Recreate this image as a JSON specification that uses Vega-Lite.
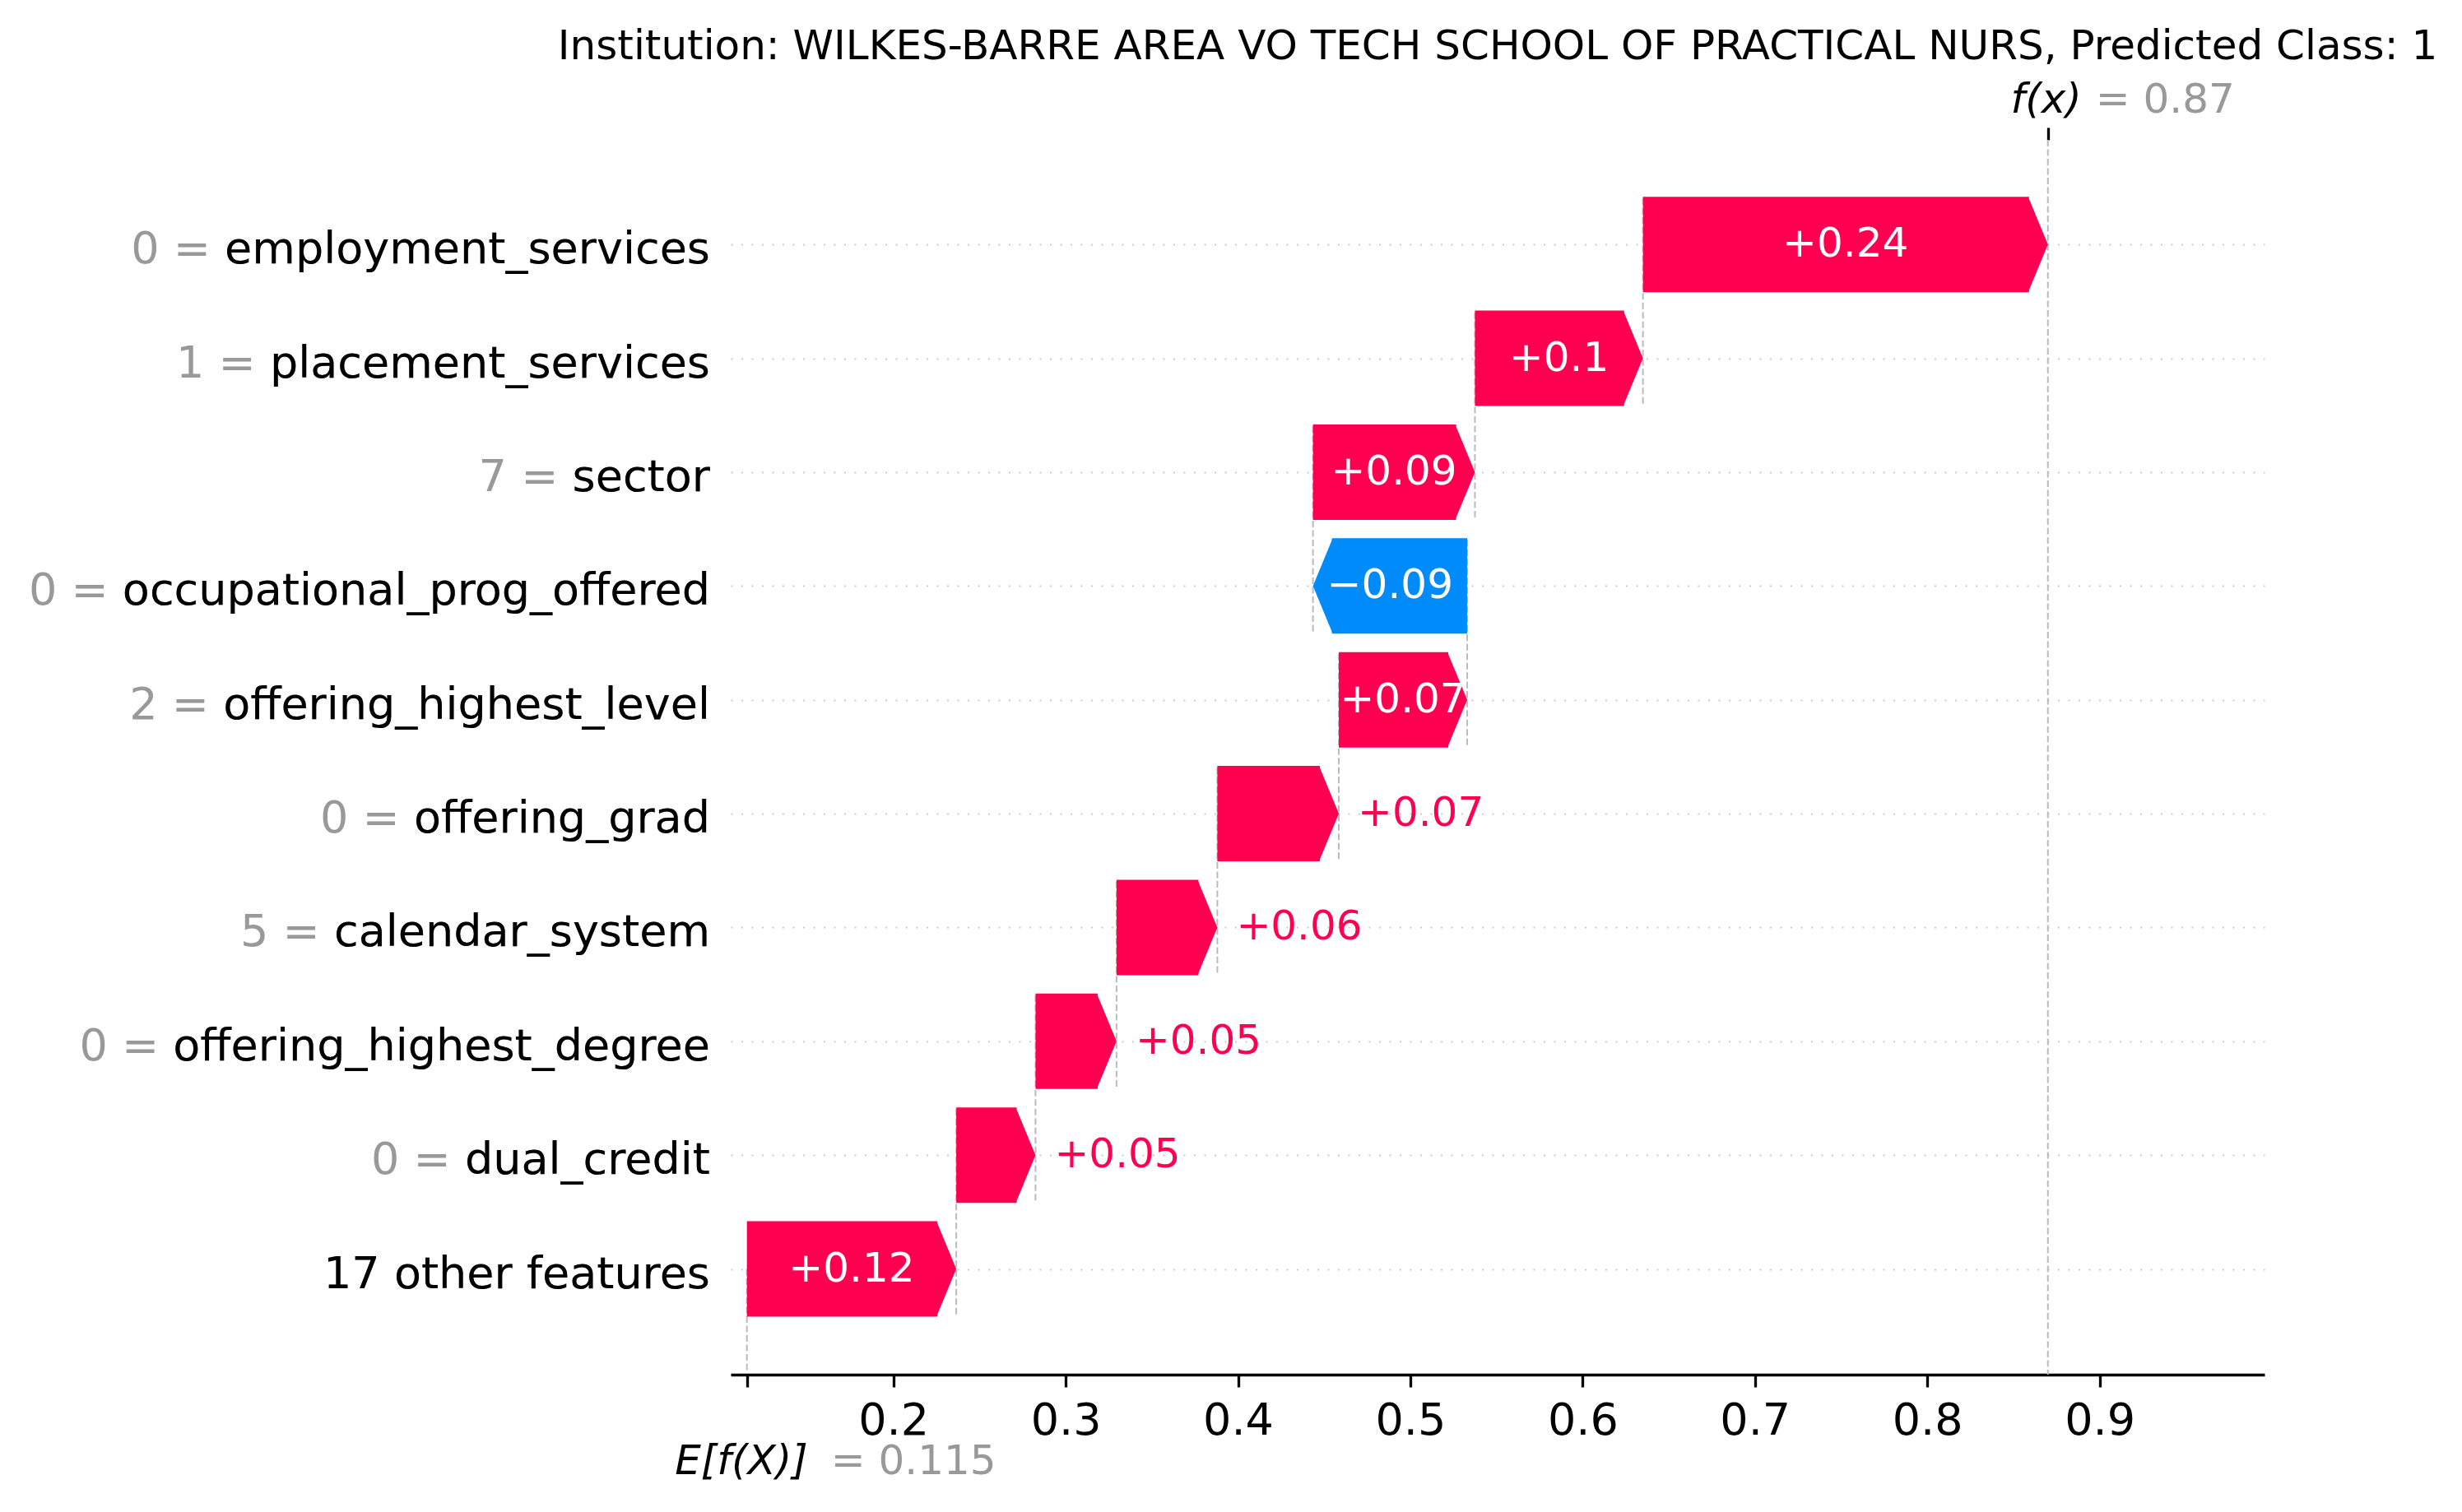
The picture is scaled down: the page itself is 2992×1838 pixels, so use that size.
{
  "$schema": "https://vega.github.io/schema/vega-lite/v6.json",
  "width": 1864,
  "height": 1501,
  "autosize": {"type": "none"},
  "padding": {"left": 888, "top": 170, "right": 240, "bottom": 167},
  "background": "white",
  "config": {"font": "DejaVu Sans", "view": {"stroke": null}},
  "title": {
    "text": "Institution: WILKES-BARRE AREA VO TECH SCHOOL OF PRACTICAL NURS, Predicted Class: 1",
    "fontSize": 50,
    "fontWeight": "normal",
    "color": "black",
    "frame": "group",
    "anchor": "middle",
    "baseline": "alphabetic",
    "offset": -25,
    "dx": 0
  },
  "datasets": {
    "contributions": [
      {"pos": 1, "feature": "employment_services", "label": "0 = employment_services", "start": 0.635, "end": 0.87, "text": "+0.24"},
      {"pos": 2, "feature": "placement_services", "label": "1 = placement_services", "start": 0.5375, "end": 0.635, "text": "+0.1"},
      {"pos": 3, "feature": "sector", "label": "7 = sector", "start": 0.4435, "end": 0.5375, "text": "+0.09"},
      {"pos": 4, "feature": "occupational_prog_offered", "label": "0 = occupational_prog_offered", "start": 0.533, "end": 0.4435, "text": "−0.09"},
      {"pos": 5, "feature": "offering_highest_level", "label": "2 = offering_highest_level", "start": 0.4585, "end": 0.533, "text": "+0.07"},
      {"pos": 6, "feature": "offering_grad", "label": "0 = offering_grad", "start": 0.388, "end": 0.4585, "text": "+0.07"},
      {"pos": 7, "feature": "calendar_system", "label": "5 = calendar_system", "start": 0.3295, "end": 0.388, "text": "+0.06"},
      {"pos": 8, "feature": "offering_highest_degree", "label": "0 = offering_highest_degree", "start": 0.2825, "end": 0.3295, "text": "+0.05"},
      {"pos": 9, "feature": "dual_credit", "label": "0 = dual_credit", "start": 0.2365, "end": 0.2825, "text": "+0.05"},
      {"pos": 10, "feature": "17 other features", "label": "17 other features", "start": 0.115, "end": 0.2365, "text": "+0.12"}
    ],
    "summary": [{"base_value": 0.115, "fx": 0.87}]
  },
  "data": {"name": "contributions"},
  "resolve": {"axis": {"x": "independent"}},
  "layer": [
    {
      "transform": [{"filter": "datum.pos < 10"}],
      "mark": {"type": "rule", "color": "#bbbbbb", "strokeWidth": 2, "strokeDash": [8, 3.5], "yOffset": -56, "y2Offset": 195},
      "encoding": {
        "x": {
          "field": "start",
          "type": "quantitative",
          "scale": {"domain": [0.1056, 0.9957], "nice": false, "zero": false},
          "axis": {
            "orient": "bottom",
            "title": null,
            "values": [0.115, 0.2, 0.3, 0.4, 0.5, 0.6, 0.7, 0.8, 0.9],
            "labelExpr": "datum.value < 0.15 ? '' : format(datum.value, '.1f')",
            "grid": false,
            "domainColor": "black",
            "domainWidth": 3.3,
            "tickColor": "black",
            "tickWidth": 3.3,
            "tickSize": 15,
            "labelFontSize": 54,
            "labelColor": "black",
            "labelPadding": 14,
            "labelFlush": false,
            "labelOverlap": false
          }
        },
        "y": {
          "field": "pos",
          "type": "quantitative",
          "scale": {"domain": [0.117, 10.892], "reverse": true, "nice": false, "zero": false},
          "axis": {
            "title": null,
            "values": [1, 2, 3, 4, 5, 6, 7, 8, 9, 10],
            "grid": true,
            "gridColor": "#cccccc",
            "gridDash": [2, 10.5],
            "gridWidth": 2,
            "labels": false,
            "ticks": false,
            "domain": false
          }
        },
        "y2": {"field": "pos"}
      }
    },
    {
      "data": {"name": "summary"},
      "mark": {"type": "rule", "color": "#bbbbbb", "strokeWidth": 2, "strokeDash": [8, 3.5]},
      "encoding": {
        "x": {
          "field": "fx",
          "type": "quantitative",
          "axis": {
            "orient": "top",
            "title": null,
            "values": [0.87],
            "labels": false,
            "domain": false,
            "grid": false,
            "ticks": true,
            "tickSize": 15,
            "tickWidth": 3.3,
            "tickColor": "black"
          }
        }
      }
    },
    {
      "data": {"name": "summary"},
      "mark": {"type": "rule", "color": "#bbbbbb", "strokeWidth": 2, "strokeDash": [8, 3.5]},
      "encoding": {
        "x": {"field": "base_value", "type": "quantitative", "axis": null},
        "y": {"datum": 10},
        "y2": {"datum": 10.892}
      }
    },
    {
      "transform": [{"filter": "datum.end > datum.start"}],
      "mark": {"type": "bar", "size": 116, "x2Offset": -23, "color": "#ff0051"},
      "encoding": {
        "x": {"field": "start", "type": "quantitative", "axis": null},
        "x2": {"field": "end"},
        "y": {"field": "pos", "type": "quantitative", "title": null}
      }
    },
    {
      "transform": [{"filter": "datum.end < datum.start"}],
      "mark": {"type": "bar", "size": 116, "x2Offset": 23, "color": "#008bfb"},
      "encoding": {
        "x": {"field": "start", "type": "quantitative", "axis": null},
        "x2": {"field": "end"},
        "y": {"field": "pos", "type": "quantitative", "title": null}
      }
    },
    {
      "transform": [{"filter": "datum.end > datum.start"}],
      "mark": {"type": "point", "shape": "M-0.4138,-1L0,0L-0.4138,1Z", "size": 13456, "filled": true, "opacity": 1, "strokeWidth": 0, "color": "#ff0051"},
      "encoding": {
        "x": {"field": "end", "type": "quantitative", "axis": null},
        "y": {"field": "pos", "type": "quantitative", "title": null}
      }
    },
    {
      "transform": [{"filter": "datum.end < datum.start"}],
      "mark": {"type": "point", "shape": "M0.4138,-1L0,0L0.4138,1Z", "size": 13456, "filled": true, "opacity": 1, "strokeWidth": 0, "color": "#008bfb"},
      "encoding": {
        "x": {"field": "end", "type": "quantitative", "axis": null},
        "y": {"field": "pos", "type": "quantitative", "title": null}
      }
    },
    {
      "transform": [
        {"filter": "abs(datum.end - datum.start) > 0.072"},
        {"fold": ["start", "end"], "as": ["edge", "x_edge"]},
        {"aggregate": [{"op": "mean", "field": "x_edge", "as": "mid"}], "groupby": ["pos", "text"]}
      ],
      "mark": {"type": "text", "fontSize": 50, "color": "white", "align": "center", "baseline": "alphabetic", "dy": 15},
      "encoding": {
        "x": {"field": "mid", "type": "quantitative", "axis": null},
        "y": {"field": "pos", "type": "quantitative", "title": null},
        "text": {"field": "text"}
      }
    },
    {
      "transform": [{"filter": "abs(datum.end - datum.start) <= 0.072"}],
      "mark": {"type": "text", "fontSize": 50, "align": "left", "baseline": "alphabetic", "dx": 23, "dy": 15},
      "encoding": {
        "x": {"field": "end", "type": "quantitative", "axis": null},
        "y": {"field": "pos", "type": "quantitative", "title": null},
        "text": {"field": "text"},
        "color": {"condition": {"test": "datum.end < datum.start", "value": "#008bfb"}, "value": "#ff0051"}
      }
    },
    {
      "mark": {"type": "text", "fontSize": 54, "align": "right", "baseline": "alphabetic", "dx": -25, "dy": 23, "color": "#999999"},
      "encoding": {
        "x": {"datum": 0.1056, "axis": null},
        "y": {"field": "pos", "type": "quantitative", "title": null},
        "text": {"field": "label"}
      }
    },
    {
      "mark": {"type": "text", "fontSize": 54, "align": "right", "baseline": "alphabetic", "dx": -25, "dy": 23, "color": "black"},
      "encoding": {
        "x": {"datum": 0.1056, "axis": null},
        "y": {"field": "pos", "type": "quantitative", "title": null},
        "text": {"field": "feature"}
      }
    },
    {
      "data": {"name": "summary"},
      "mark": {"type": "text", "fontSize": 50, "fontStyle": "italic", "align": "right", "baseline": "alphabetic", "dx": 41, "color": "black"},
      "encoding": {
        "x": {"field": "fx", "type": "quantitative", "axis": null},
        "y": {"datum": -0.156},
        "text": {"value": "f(x)"}
      }
    },
    {
      "data": {"name": "summary"},
      "mark": {"type": "text", "fontSize": 50, "align": "left", "baseline": "alphabetic", "dx": 58, "color": "#999999"},
      "encoding": {
        "x": {"field": "fx", "type": "quantitative", "axis": null},
        "y": {"datum": -0.156},
        "text": {"value": "= 0.87"}
      }
    },
    {
      "data": {"name": "summary"},
      "mark": {"type": "text", "fontSize": 50, "fontStyle": "italic", "align": "right", "baseline": "alphabetic", "dx": 74, "color": "black"},
      "encoding": {
        "x": {"field": "base_value", "type": "quantitative", "axis": null},
        "y": {"datum": 11.804},
        "text": {"value": "E[f(X)]"}
      }
    },
    {
      "data": {"name": "summary"},
      "mark": {"type": "text", "fontSize": 50, "align": "left", "baseline": "alphabetic", "dx": 102, "color": "#999999"},
      "encoding": {
        "x": {"field": "base_value", "type": "quantitative", "axis": null},
        "y": {"datum": 11.804},
        "text": {"value": "= 0.115"}
      }
    }
  ]
}
